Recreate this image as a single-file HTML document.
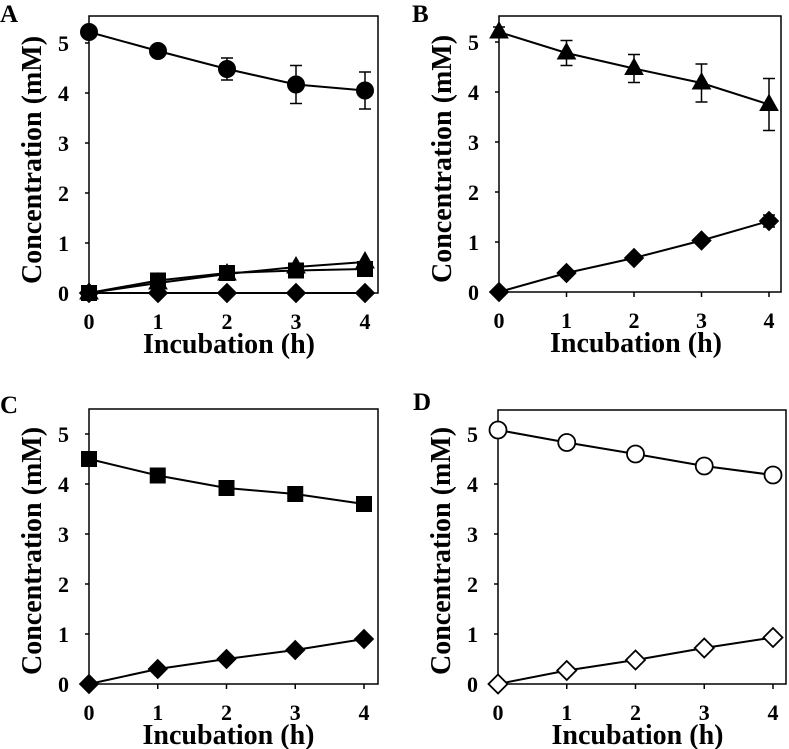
<!DOCTYPE html>
<html><head><meta charset="utf-8"><style>
html,body{margin:0;padding:0;background:#fff;}
svg{display:block;font-family:"Liberation Serif",serif;font-weight:bold;}
</style></head><body>
<svg id="fig" width="789" height="749" viewBox="0 0 789 749" xmlns="http://www.w3.org/2000/svg"></svg>
<script>
const xCategories = [0, 1, 2, 3, 4];
const yTickLabels = [0, 1, 2, 3, 4, 5];
const xTickLabels = [0, 1, 2, 3, 4];
// Panel A
const aCircle = [5.22, 4.84, 4.48, 4.17, 4.05];
const aCircleErr = [0.03, 0.03, 0.22, 0.38, 0.37];
const aTriangle = [0, 0.2, 0.38, 0.52, 0.62];
const aSquare = [0, 0.25, 0.4, 0.45, 0.48];
const aDiamond = [0, 0, 0, 0, 0];
// Panel B
const bTriangle = [5.2, 4.78, 4.47, 4.18, 3.75];
const bTriangleErr = [0.1, 0.25, 0.28, 0.38, 0.52];
const bDiamond = [0, 0.38, 0.68, 1.03, 1.42];
const bDiamondErr = [0, 0.03, 0.03, 0.03, 0.12];
// Panel C
const cSquare = [4.5, 4.17, 3.92, 3.8, 3.6];
const cDiamond = [0, 0.3, 0.5, 0.68, 0.9];
// Panel D
const dCircle = [5.08, 4.83, 4.6, 4.36, 4.18];
const dCircleErr = [0.08, 0.1, 0.1, 0.1, 0.1];
const dDiamond = [0, 0.27, 0.48, 0.72, 0.93];

const NS = "http://www.w3.org/2000/svg";
const svg = document.getElementById('fig');
function mk(tag, attrs, parent){const e=document.createElementNS(NS,tag);for(const k in attrs)e.setAttribute(k,attrs[k]);(parent||svg).appendChild(e);return e;}

const panels = [
 {id:'a', letter:'A', lx:0, ly:22, L:89, T:16, R:378, Y0:293, X4:365, series:[
   {v:aSquare, m:'square', fill:'#000'},
   {v:aTriangle, m:'triangle', fill:'#000'},
   {v:aDiamond, m:'diamond', fill:'#000'},
   {v:aCircle, e:aCircleErr, m:'circle', fill:'#000'}]},
 {id:'b', letter:'B', lx:412, ly:22, L:499, T:16, R:781, Y0:292, X4:769, series:[
   {v:bDiamond, e:bDiamondErr, m:'diamond', fill:'#000'},
   {v:bTriangle, e:bTriangleErr, m:'triangle', fill:'#000'}]},
 {id:'c', letter:'C', lx:0, ly:413, L:89, T:409, R:378, Y0:684, X4:364, series:[
   {v:cDiamond, m:'diamond', fill:'#000'},
   {v:cSquare, m:'square', fill:'#000'}]},
 {id:'d', letter:'D', lx:413, ly:410, L:498, T:410, R:786, Y0:684, X4:773, series:[
   {v:dDiamond, m:'diamond', fill:'#fff'},
   {v:dCircle, e:dCircleErr, m:'circle', fill:'#fff'}]}
];

function marker(g, m, x, y, fill){
  const st = {fill:fill, stroke:'#000', 'stroke-width':fill==='#fff'?1.8:1};
  let el;
  if(m==='circle') el = mk('circle', Object.assign({cx:x, cy:y, r:8.5}, st), g);
  else if(m==='square') el = mk('rect', Object.assign({x:x-7.5, y:y-7.5, width:15, height:15}, st), g);
  else if(m==='diamond') el = mk('polygon', Object.assign({points:`${x},${y-9.5} ${x+9.5},${y} ${x},${y+9.5} ${x-9.5},${y}`}, st), g);
  else el = mk('polygon', Object.assign({points:`${x},${y-10} ${x+9},${y+6} ${x-9},${y+6}`}, st), g);
  return el;
}

panels.forEach(p=>{
  const g = mk('g', {});
  
  
  const xs = v => p.L + v * (p.X4 - p.L) / 4;
  const ys = v => p.Y0 - v * 50;
  const lt = mk('text', {x:p.lx, y:p.ly, 'font-size':25}, g); lt.textContent = p.letter;
  
  
  const box = mk('rect', {x:p.L, y:p.T, width:p.R-p.L, height:p.Y0-p.T, fill:'none', stroke:'#000', 'stroke-width':1.5}, g);
  
  
  yTickLabels.forEach(t=>{
    mk('line', {x1:p.L-4, x2:p.L, y1:ys(t), y2:ys(t), stroke:'#000', 'stroke-width':1.5}, g);
    const tx = mk('text', {x:p.L-20, y:ys(t)+8, 'font-size':22, 'text-anchor':'end'}, g); tx.textContent = t;
    
    
  });
  xTickLabels.forEach(t=>{
    mk('line', {x1:xs(t), x2:xs(t), y1:p.Y0, y2:p.Y0+5, stroke:'#000', 'stroke-width':1.5}, g);
    const tx = mk('text', {x:xs(t), y:p.Y0+36, 'font-size':22, 'text-anchor':'middle'}, g); tx.textContent = t;
    
    
  });
  const xt = mk('text', {x:(p.L+p.X4)/2+2, y:p.Y0+60, 'font-size':28, 'text-anchor':'middle'}, g);
  xt.textContent = 'Incubation (h)';
  
  
  const ycx = p.L - 48, ycy = p.Y0 - 133;
  const yt = mk('text', {x:ycx, y:ycy, 'font-size':28, 'text-anchor':'middle', transform:`rotate(-90 ${ycx} ${ycy})`}, g);
  yt.textContent = 'Concentration (mM)';
  
  
  p.series.forEach((s, si)=>{
    const sg = mk('g', {}, g);
    
    
    const pts = xCategories.map((c,i)=>xs(c)+','+ys(s.v[i])).join(' ');
    const pl = mk('polyline', {points:pts, fill:'none', stroke:'#000', 'stroke-width':2}, sg);
    
    
    if(s.e){
      xCategories.forEach((c,i)=>{
        const x=xs(c), y1=ys(s.v[i]+s.e[i]), y2=ys(s.v[i]-s.e[i]);
        const eb = mk('path', {d:`M${x},${y1}V${y2}M${x-6},${y1}H${x+6}M${x-6},${y2}H${x+6}`, stroke:'#000', 'stroke-width':1.5, fill:'none'}, sg);
        
        
      });
    }
    xCategories.forEach((c,i)=>{
      const mEl = marker(sg, s.m, xs(c), ys(s.v[i]), s.fill);
      
      
    });
  });
});
</script>
</body></html>
